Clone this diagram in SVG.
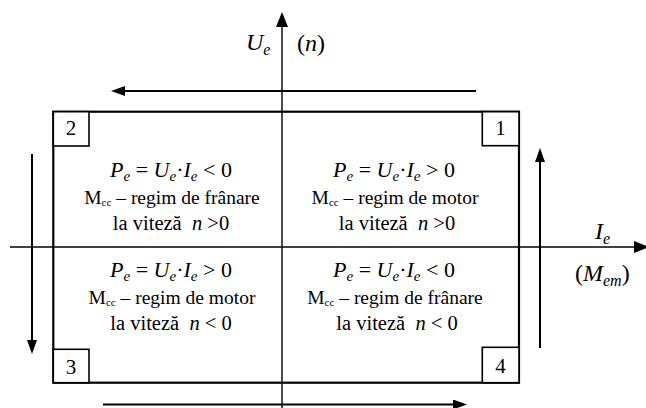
<svg xmlns="http://www.w3.org/2000/svg" width="646" height="408" viewBox="0 0 646 408">
<defs>
<style>
.t{font-family:"Liberation Serif","Times New Roman",serif;fill:#000}
.q1{font-size:22px}
.q2{font-size:19.5px}
.q3{font-size:20.5px}
.lab{font-size:24px}
.num{font-size:21px}
.i{font-style:italic}
.s{font-size:15px}
.ss{font-size:11px}
.ls{font-size:16px}
.ax{stroke:#000;stroke-width:1.4;fill:none}
.ar{stroke:#000;stroke-width:2;fill:none}
.frame{stroke:#000;stroke-width:2.2;fill:none}
.box{stroke:#000;stroke-width:1.6;fill:#fff}
</style>
<marker id="ah" markerUnits="userSpaceOnUse" markerWidth="14" markerHeight="10" refX="10" refY="5" orient="auto">
<path d="M0,0 L14,5 L0,10 z" fill="#000"/>
</marker>
<marker id="axh" markerUnits="userSpaceOnUse" markerWidth="15" markerHeight="12" refX="11" refY="6" orient="auto">
<path d="M0,0 L15,6 L0,12 z" fill="#000"/>
</marker>
</defs>
<rect width="646" height="408" fill="#fff"/>

<g id="connectors">
<line class="ax" x1="282" y1="408" x2="282" y2="16" marker-end="url(#axh)"/>
<line class="ax" x1="10" y1="247" x2="645" y2="247" marker-end="url(#axh)"/>
<line class="ar" x1="476" y1="91" x2="115" y2="91" marker-end="url(#ah)"/>
<line class="ar" x1="32" y1="154" x2="32" y2="350" marker-end="url(#ah)"/>
<line class="ar" x1="540" y1="348" x2="540" y2="152" marker-end="url(#ah)"/>
<line class="ar" x1="103" y1="404.5" x2="463" y2="404.5" marker-end="url(#ah)"/>
</g>

<g id="frame">
<rect class="frame" x="53.3" y="111.7" width="465.7" height="271"/>
</g>

<g id="box2">
<rect class="box" x="53.3" y="111.7" width="35.7" height="34.3"/>
<text class="t num" x="71" y="135" text-anchor="middle">2</text>
</g>
<g id="box1">
<rect class="box" x="482.3" y="111.7" width="36.7" height="34"/>
<text class="t num" x="500.5" y="135" text-anchor="middle">1</text>
</g>
<g id="box3">
<rect class="box" x="53.3" y="349.3" width="35.7" height="33.4"/>
<text class="t num" x="71" y="374" text-anchor="middle">3</text>
</g>
<g id="box4">
<rect class="box" x="482.3" y="347.3" width="36.7" height="35.4"/>
<text class="t num" x="500.5" y="373" text-anchor="middle">4</text>
</g>

<g id="label-ue">
<text class="t lab" x="246" y="50"><tspan class="i">U</tspan><tspan class="i ls" dy="5">e</tspan></text>
<text class="t lab" x="297" y="51">(<tspan class="i">n</tspan>)</text>
</g>
<g id="label-ie">
<text class="t lab" x="595" y="239"><tspan class="i">I</tspan><tspan class="i ls" dy="5">e</tspan></text>
<text class="t lab" x="575" y="281">(<tspan class="i">M</tspan><tspan class="i ls" dy="5">em</tspan><tspan dy="-5">)</tspan></text>
</g>

<g id="q2">
<text class="t q1" x="171" y="177" text-anchor="middle"><tspan class="i">P</tspan><tspan class="i s" dy="4">e</tspan><tspan dy="-4"> = </tspan><tspan class="i">U</tspan><tspan class="i s" dy="4">e</tspan><tspan dy="-4">·</tspan><tspan class="i">I</tspan><tspan class="i s" dy="4">e</tspan><tspan dy="-4"> &lt; 0</tspan></text>
<text class="t q2" x="172" y="204" text-anchor="middle">M<tspan class="ss" dy="2">cc</tspan><tspan dy="-2"> – regim de frânare</tspan></text>
<text class="t q3" x="171" y="230" text-anchor="middle">la viteză&#160; <tspan class="i">n</tspan> &gt;0</text>
</g>

<g id="q1">
<text class="t q1" x="394" y="177" text-anchor="middle"><tspan class="i">P</tspan><tspan class="i s" dy="4">e</tspan><tspan dy="-4"> = </tspan><tspan class="i">U</tspan><tspan class="i s" dy="4">e</tspan><tspan dy="-4">·</tspan><tspan class="i">I</tspan><tspan class="i s" dy="4">e</tspan><tspan dy="-4"> &gt; 0</tspan></text>
<text class="t q2" x="395" y="204" text-anchor="middle">M<tspan class="ss" dy="2">cc</tspan><tspan dy="-2"> – regim de motor</tspan></text>
<text class="t q3" x="397" y="230" text-anchor="middle">la viteză&#160; <tspan class="i">n</tspan> &gt;0</text>
</g>

<g id="q3">
<text class="t q1" x="171" y="277" text-anchor="middle"><tspan class="i">P</tspan><tspan class="i s" dy="4">e</tspan><tspan dy="-4"> = </tspan><tspan class="i">U</tspan><tspan class="i s" dy="4">e</tspan><tspan dy="-4">·</tspan><tspan class="i">I</tspan><tspan class="i s" dy="4">e</tspan><tspan dy="-4"> &gt; 0</tspan></text>
<text class="t q2" x="172" y="304" text-anchor="middle">M<tspan class="ss" dy="2">cc</tspan><tspan dy="-2"> – regim de motor</tspan></text>
<text class="t q3" x="171" y="330" text-anchor="middle">la viteză&#160; <tspan class="i">n</tspan> &lt; 0</text>
</g>

<g id="q4">
<text class="t q1" x="394" y="277" text-anchor="middle"><tspan class="i">P</tspan><tspan class="i s" dy="4">e</tspan><tspan dy="-4"> = </tspan><tspan class="i">U</tspan><tspan class="i s" dy="4">e</tspan><tspan dy="-4">·</tspan><tspan class="i">I</tspan><tspan class="i s" dy="4">e</tspan><tspan dy="-4"> &lt; 0</tspan></text>
<text class="t q2" x="395" y="304" text-anchor="middle">M<tspan class="ss" dy="2">cc</tspan><tspan dy="-2"> – regim de frânare</tspan></text>
<text class="t q3" x="397" y="330" text-anchor="middle">la viteză&#160; <tspan class="i">n</tspan> &lt; 0</text>
</g>
</svg>
